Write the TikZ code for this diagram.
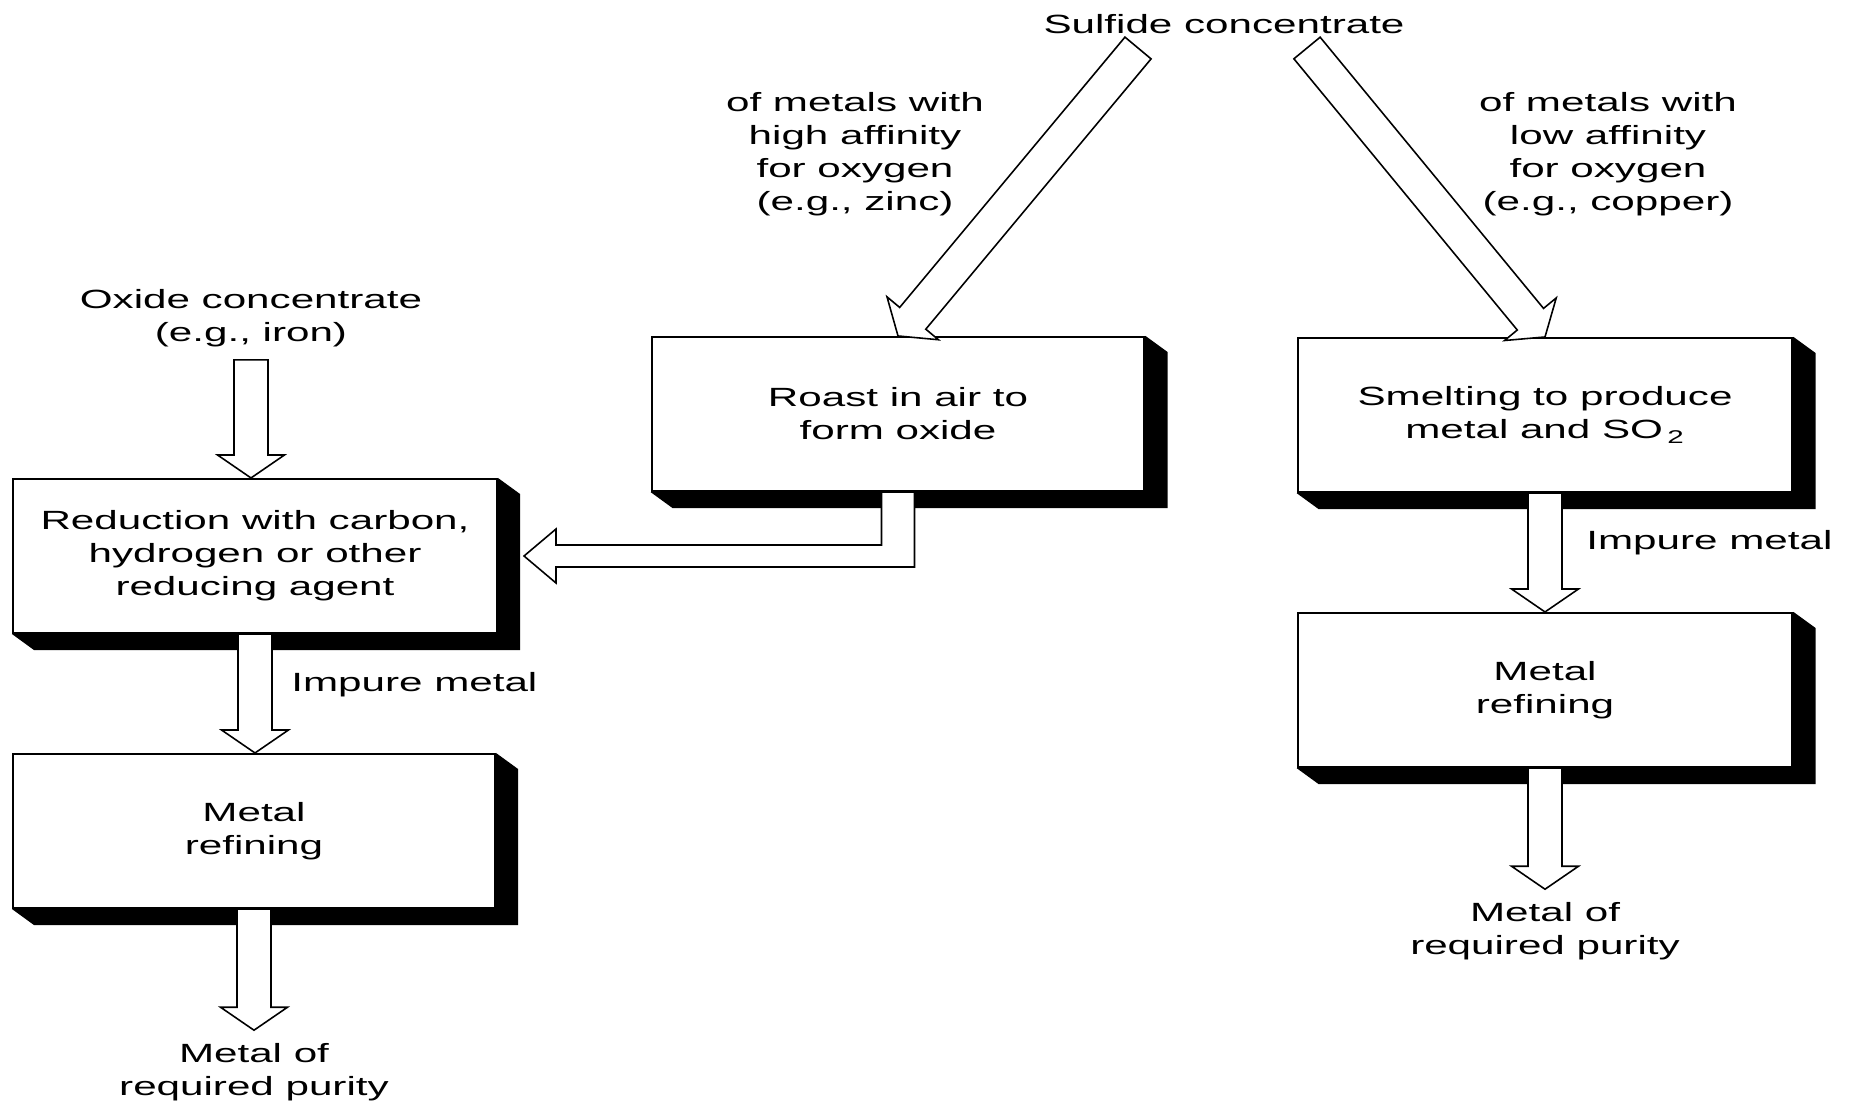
\documentclass[tikz,border=0pt]{standalone}
\usepackage{fontspec}
\setmainfont{Liberation Sans}[FakeStretch=1.6]
\usetikzlibrary{calc}

% fleche creuse d'un point a un autre
\newcommand\flechebloc[2]{%
  \path ($(#2)!0.46cm!(#1)$) coordinate (fb);
  \draw[bloc] ($(#1)!0.34cm!90:(#2)$) -- ($(fb)!0.34cm!90:(#2)$)
    -- ($(fb)!0.67cm!90:(#2)$) -- (#2) -- ($(fb)!0.67cm!-90:(#2)$)
    -- ($(fb)!0.34cm!-90:(#2)$) -- ($(#1)!0.34cm!-90:(#2)$) -- cycle;}

\begin{document}
\begin{tikzpicture}[x=0.02cm,y=-0.02cm]
  \tikzstyle{boite}=[draw, line width=1.2pt, fill=white, align=center,
  inner sep=0pt, minimum height=3.08cm, font=\fontsize{15pt}{18.8pt}\selectfont]
  \tikzstyle{texte}=[align=center, inner sep=0pt, font=\fontsize{15pt}{18.8pt}\selectfont]
  \tikzstyle{bout}=[texte, outer ysep=0.26cm]
  \tikzstyle{bloc}=[draw, line width=0.9pt, fill=white, line join=miter]
  \useasboundingbox (0,0) rectangle (1851,1105);
  % boites avec ombre
  \foreach \n/\x/\y/\w/\t in {red/255/556/9.68/{Reduction with carbon,\\hydrogen or other\\reducing agent},
    refL/254/831/9.64/{Metal\\refining},
    roast/898/414/9.86/{Roast in air to\\form oxide},
    smelt/1545/415/9.9/{Smelting to produce\\metal and SO\,\textsubscript{2}},
    refR/1545/690/9.9/{Metal\\refining}} {
    \draw (\x,\y) node[boite, minimum width=\w cm] (\n) {\t};
    \fill (\n.south west) -- ++(22,16) -| ([shift={(22,16)}]\n.north east)
      -- (\n.north east) -- (\n.south east) -- cycle;
  }
  % textes
  \node[texte] (sulf) at (1224,24) {Sulfide concentrate};
  \node[texte] (hautL) at (855,154) {of metals with\\high affinity\\for oxygen\\(e.g., zinc)};
  \node[texte] (hautR) at (1608,154) {of metals with\\low affinity\\for oxygen\\(e.g., copper)};
  \node[bout] (ox) at (251,318) {Oxide concentrate\\(e.g., iron)};
  \node[texte, anchor=west] (impL) at (291,685) {Impure metal};
  \node[texte, anchor=west] (impR) at (1586,543) {Impure metal};
  \node[bout] (outL) at (254,1072) {Metal of\\required purity};
  \node[bout] (outR) at (1545,931) {Metal of\\required purity};
  % fleches
  \coordinate (qL) at (1138,48);
  \coordinate (qR) at (1307,48);
  \coordinate (pOx) at (ox.south |- red.north);
  \coordinate (pRefL) at (red.south |- refL.north);
  \coordinate (pOutL) at (refL.south |- outL.north);
  \coordinate (pRefR) at (smelt.south |- refR.north);
  \coordinate (pOutR) at (refR.south |- outR.north);
  \flechebloc{qL}{roast.north}
  \flechebloc{qR}{smelt.north}
  \flechebloc{ox.south}{pOx}
  \flechebloc{red.south}{pRefL}
  \flechebloc{refL.south}{pOutL}
  \flechebloc{smelt.south}{pRefR}
  \flechebloc{refR.south}{pOutR}
  \draw[bloc] ([xshift=-0.33cm]roast.south) |- ([xshift=1.16cm,yshift=0.22cm]red.east)
    -- ++(0,-16) -- ([xshift=0.52cm]red.east) -- ([xshift=1.16cm,yshift=-0.54cm]red.east)
    -- ++(0,-16) -| ([xshift=0.33cm]roast.south) -- cycle;
\end{tikzpicture}
\end{document}
